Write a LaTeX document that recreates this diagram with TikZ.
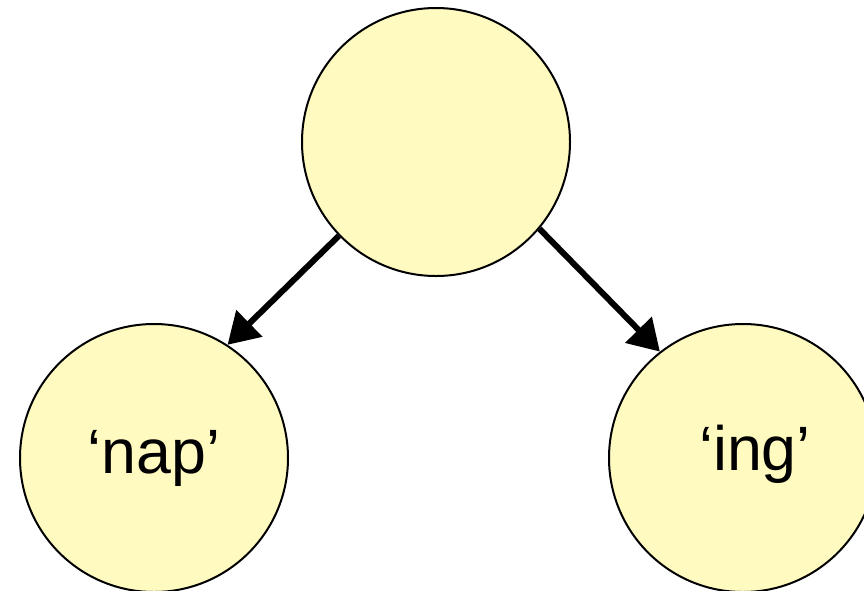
\documentclass[tikz,border=0pt]{standalone}
\usepackage{fontspec}
\setmainfont{Liberation Sans}
\usepackage{tikz}
\usetikzlibrary{arrows.meta}

\begin{document}
\begin{tikzpicture}[x=0.75pt, y=-0.75pt, every node/.style={circle, draw=black, line width=1.5pt, fill=lightyellow, minimum size=201pt, inner sep=0pt, font=\fontsize{47}{50}\selectfont}]
        % Define the colors
        \definecolor{lightyellow}{HTML}{FFFAC0}

        % Fix the page size
        \useasboundingbox (0,0) rectangle (864,590);

        % Draw the circles with labels
        \node (Root) at (436,142) {};
        \node (Nap) at (154,458) {‘nap’\hspace{6pt}};
        \node (Ing) at (743,458) {\hspace{18pt}\raisebox{16pt}{‘ing’}};

        % Draw the arrows from the top circle to each leaf
        \draw[-{Triangle[length=23pt,width=27pt]},line width=4.5pt] (Root.224) -- (Nap.57);
        \draw[-{Triangle[length=23pt,width=27pt]},line width=4.5pt] (Root.-40) -- (Ing.128);

    \end{tikzpicture}
\end{document}
